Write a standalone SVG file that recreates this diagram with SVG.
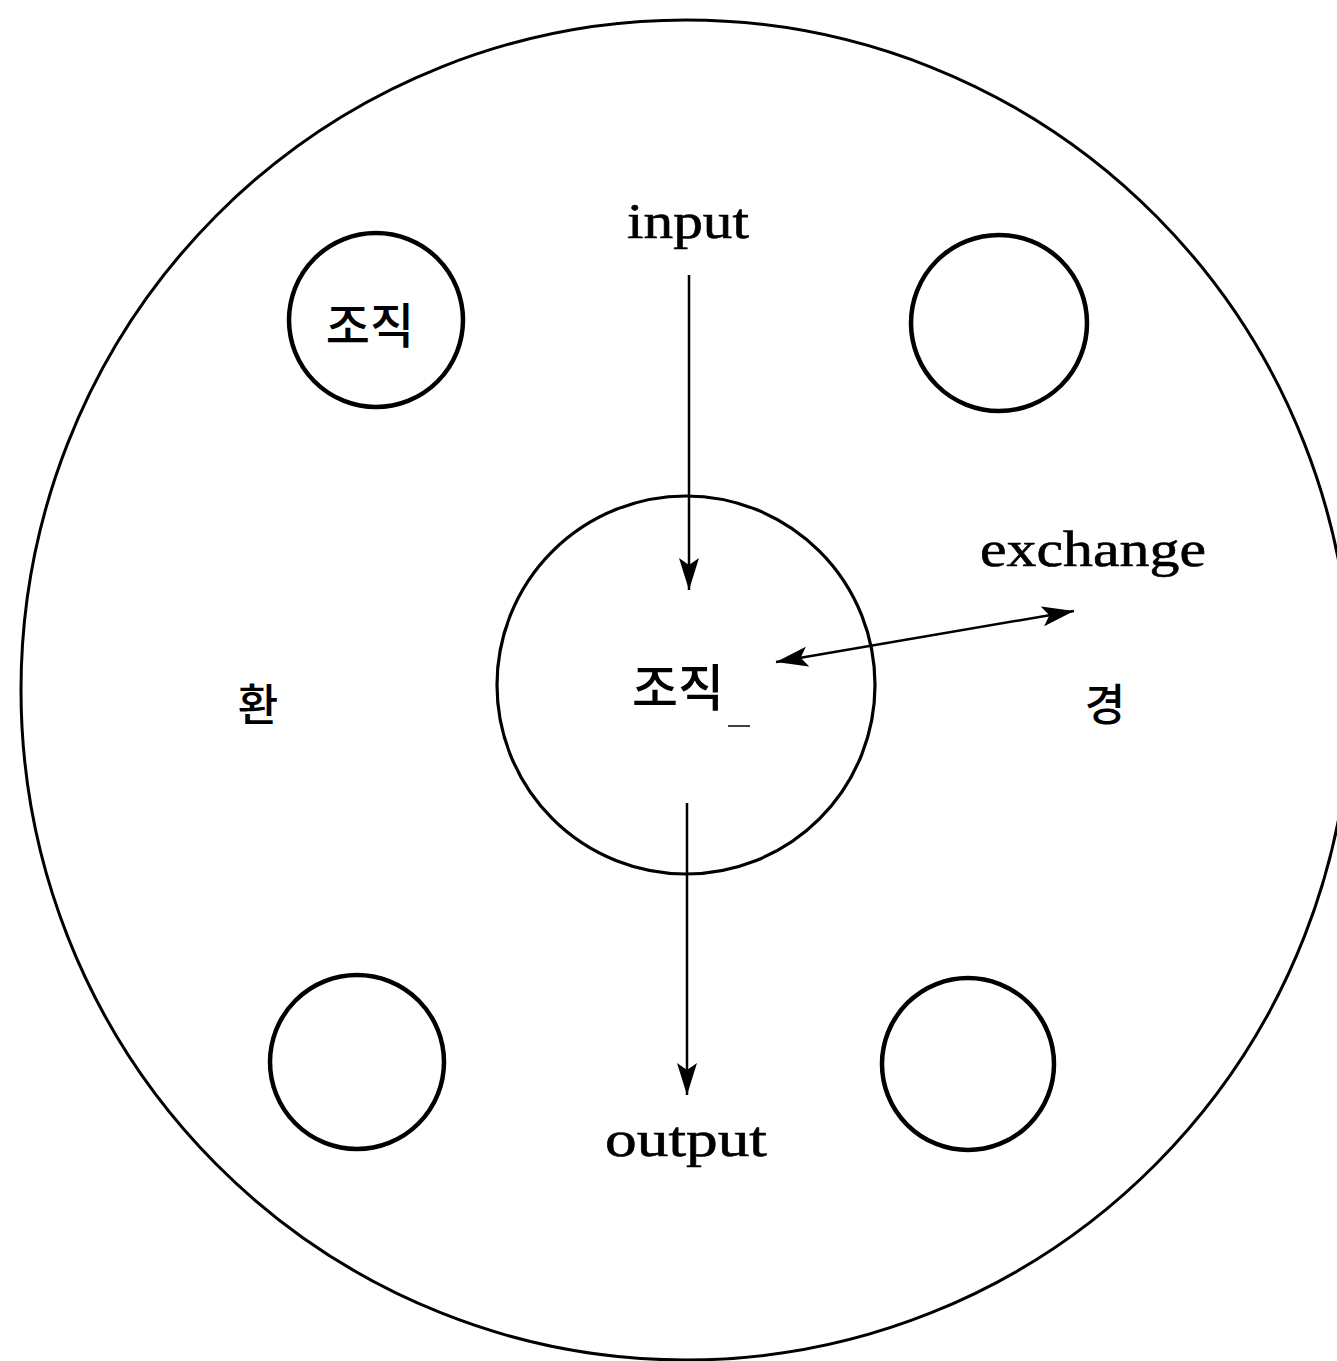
<svg xmlns="http://www.w3.org/2000/svg" width="1337" height="1361" viewBox="0 0 1337 1361">
<style>
.ring{fill:none;stroke:#000;}
.lbl{font-family:"Liberation Serif","Times New Roman",serif;fill:#000;stroke:#000;stroke-width:0.6;text-anchor:middle;}
.ko{font-family:"Noto Sans CJK KR","Noto Sans",sans-serif;font-weight:500;fill:#000;text-anchor:middle;}
.conn{stroke:#000;stroke-width:2.5;fill:none;}
</style>
<defs>
<marker id="ah" markerUnits="userSpaceOnUse" markerWidth="34" markerHeight="22" refX="32" refY="10" orient="auto-start-reverse" viewBox="0 0 34 20">
<path d="M0,0 L32,10 L0,20 L7,10 Z" fill="#000"/>
</marker>
</defs>
<rect width="1337" height="1361" fill="#fff"/>
<g id="environment">
<ellipse class="ring" cx="686" cy="690" rx="665" ry="670" stroke-width="3"/>
<text class="ko" x="258" y="721" font-size="44">환</text>
<text class="ko" x="1105" y="721" font-size="44">경</text>
</g>
<g id="org-center">
<circle class="ring" cx="686" cy="685" r="189" stroke-width="3.2"/>
<text class="ko" x="678" y="706" font-size="50">조직</text>
<line x1="728" y1="726" x2="750" y2="726" stroke="#000" stroke-width="1.5"/>
</g>
<g id="org-tl">
<circle class="ring" cx="376" cy="320" r="87" stroke-width="4.5"/>
<text class="ko" x="370" y="343" font-size="48">조직</text>
</g>
<g id="org-tr">
<circle class="ring" cx="999" cy="323" r="88" stroke-width="4.5"/>
</g>
<g id="org-bl">
<circle class="ring" cx="357" cy="1062" r="87" stroke-width="4.5"/>
</g>
<g id="org-br">
<circle class="ring" cx="968" cy="1064" r="86" stroke-width="4.5"/>
</g>
<g id="labels">
<text class="lbl" x="688" y="238" font-size="50" textLength="122" lengthAdjust="spacingAndGlyphs">input</text>
<text class="lbl" x="1093" y="566" font-size="50" textLength="226" lengthAdjust="spacingAndGlyphs">exchange</text>
<text class="lbl" x="686" y="1156" font-size="50" textLength="162" lengthAdjust="spacingAndGlyphs">output</text>
</g>
<g id="connectors">
<line class="conn" x1="689" y1="275" x2="689" y2="590" marker-end="url(#ah)"/>
<line class="conn" x1="687" y1="803" x2="687" y2="1095" marker-end="url(#ah)"/>
<line class="conn" x1="776" y1="662" x2="1074" y2="611" marker-start="url(#ah)" marker-end="url(#ah)"/>
</g>
</svg>
